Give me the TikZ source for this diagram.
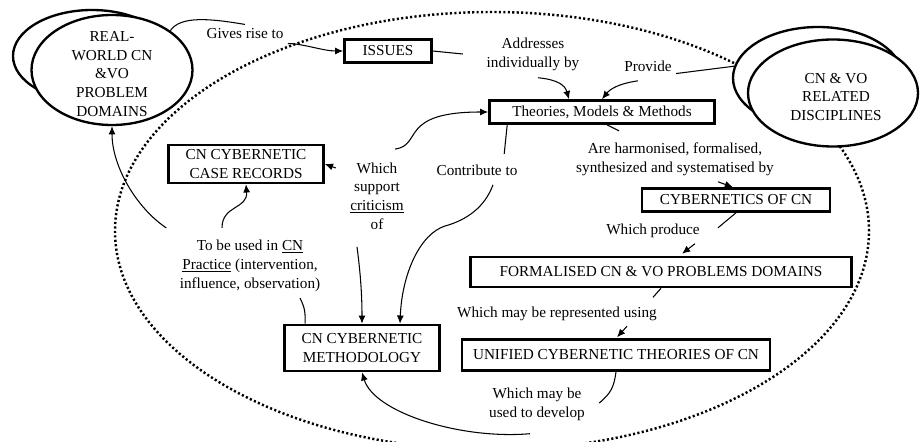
\documentclass[tikz,border=0pt]{standalone}
\usepackage{fontspec}
\setmainfont{Liberation Serif}
\usepackage{tikz}
\usetikzlibrary{calc,shapes.geometric,arrows.meta}

\begin{document}
\begin{tikzpicture}[x=0.03cm,y=-0.03cm,
                    >={Latex[length=7pt,width=6pt]},line width=0.9pt,
                    every node/.style={font=\fontsize{13}{16}\selectfont},
                    concept/.style={draw,rectangle,line width=2.2pt,inner sep=0pt,align=center},
                    realm/.style={draw,ellipse,line width=2pt,inner sep=0pt,fill=white},
                    lbl/.style={align=center}]
\useasboundingbox (0,0) rectangle (920,441);
% the big dotted loop
\draw[line width=2.1pt,dash pattern=on 1.8pt off 2pt] (492,231) ellipse [x radius=11.31cm,y radius=6.57cm];
%
\node[realm,minimum width=4.74cm,minimum height=2.76cm] (rwback) at (92,56) {};
\node[realm,minimum width=4.83cm,minimum height=3.3cm] (rw) at (112,70) {};
\node[lbl] (rwtext) at ($(rw.center)+(0,4)$) {REAL-\\WORLD CN\\\&VO\\PROBLEM\\DOMAINS};
\node[realm,minimum width=5.1cm,minimum height=3.06cm] (discback) at (818,78) {};
\node[realm,minimum width=5.1cm,minimum height=3.21cm] (disc) at (833,93) {};
\node[lbl] (disctext) at ($(disc.center)+(3,4)$) {CN \& VO\\RELATED\\DISCIPLINES};
%
\node[concept,minimum width=2.61cm,minimum height=0.69cm] (issues) at (388,51) {ISSUES};
\node[concept,minimum width=6.75cm,minimum height=0.69cm] (tmm) at (602,112) {Theories, Models \& Methods};
\node[concept,minimum width=4.65cm,minimum height=1.14cm] (records) at (246,164) {CN CYBERNETIC\\CASE RECORDS};
\node[concept,minimum width=5.64cm,minimum height=0.69cm] (cyb) at (736,200) {CYBERNETICS OF CN};
\node[concept,minimum width=11.43cm,minimum height=0.9cm] (formal) at (661,272) {FORMALISED CN \& VO PROBLEMS DOMAINS};
\node[concept,minimum width=4.65cm,minimum height=1.38cm] (method) at (362,348) {CN CYBERNETIC\\METHODOLOGY};
\node[concept,minimum width=9.24cm,minimum height=0.93cm] (unified) at (616,355) {UNIFIED CYBERNETIC THEORIES OF CN};
%
\node[lbl] (lgives) at (245,34) {Gives rise to};
\node[lbl] (laddr) at (533,54) {Addresses\\individually by};
\node[lbl] (lprov) at (648,66) {Provide};
\node[lbl] (lharm) at (675,159) {Are harmonised, formalised,\\synthesized and systematised by};
\node[lbl] (lsupport) at (377,196) {Which\\support\\\underline{criticism}\\of};
\node[lbl] (lcontrib) at (477,170) {Contribute to};
\node[lbl] (lused) at (250,266) {To be used in \underline{CN}\\\underline{Practice} (intervention,\\influence, observation)};
\node[lbl] (lprod) at (653,231) {Which produce};
\node[lbl] (lrepr) at (557,314) {Which may be represented using};
\node[lbl] (ldevelop) at (537,404) {Which may be\\used to develop};
%
\draw (rw.34) .. controls +(10,-15) and +(-35,-6) .. (lgives.north);
\draw[->] (lgives.south east) .. controls +(15,0) and +(-20,0) .. (issues.west);
\draw (issues.east) -- +(30,3);
\draw[->] ($(laddr.south)+(5,3)$) .. controls +(20,2) and +(-4,-14) .. ($(tmm.north)+(-33,0)$);
\draw (lprov.-15) -- (discback.172);
\draw[->] ($(lprov.south)+(-10,5)$) .. controls +(-20,3) and +(8,-10) .. (tmm.north);
\draw ($(tmm.south)+(5,0)$) -- +(12,6);
\draw[->] ($(lharm.south)+(43,2)$) -- ($(cyb.north)+(-3,0)$);
\draw (cyb.south) -- +(-18,15);
\draw[->] ($(formal.north)+(34,-12)$) -- ($(formal.north)+(21,-2)$);
\draw (formal.south) -- +(-8,9);
\draw[->] ($(unified.north)+(11,-12)$) -- ($(unified.north)+(1,-1)$);
\draw (unified.south) .. controls +(-2,15) and +(12,-10) .. ($(ldevelop.east)+(10,-1)$);
\draw[->] ($(ldevelop.south)+(-7,9)$) .. controls +(-70,6) and +(12,40) .. (method.south);
\draw[->] ($(lsupport.north east)+(-13,-9)$) .. controls +(28,-4) and +(-90,0) .. (tmm.west);
\draw[->] ($(records.east)+(11,4)$) -- (records.east);
\draw[->] ($(lsupport.south)+(-20,13)$) .. controls +(4,30) and +(0,-25) .. (method.north);
\draw ($(tmm.south west)+(19,0)$) -- +(-3,29);
\draw[->] ($(lcontrib.south)+(16,5)$) .. controls +(-8,22) and +(22,-6) .. (445,226)
  .. controls +(-25,8) and +(2,-50) .. ($(method.north)+(38,0)$);
\draw[->] ($(lused.north)+(-28,-8)$) .. controls +(0,-23) and +(2,25) .. (records.south);
\draw[->] ($(lused.north west)+(-9,-8)$) .. controls +(-30,-20) and +(0,40) .. (rw.south);
\draw ($(lused.south)+(50,2)$) .. controls +(5,10) and +(0,-12) .. ($(method.north west)+(22,0)$);
\end{tikzpicture}
\end{document}
